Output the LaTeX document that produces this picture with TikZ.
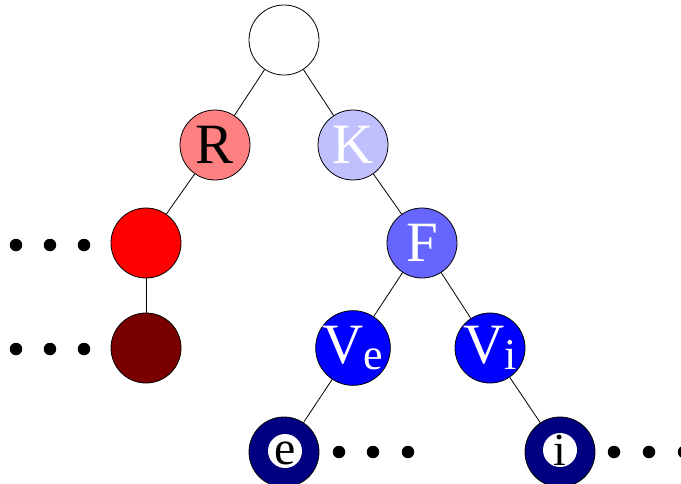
\documentclass[tikz,border=0pt]{standalone}
\usepackage{fontspec}
\setmainfont{Liberation Serif}
\definecolor{rlight}{HTML}{FF8080}
\definecolor{klight}{HTML}{C0C0FF}
\definecolor{fmid}{HTML}{6666FF}
\definecolor{vblue}{HTML}{0000FF}
\definecolor{navyfill}{HTML}{000080}
\definecolor{redfill}{HTML}{FF0000}
\definecolor{maroonfill}{HTML}{7A0000}
\begin{document}
\begin{tikzpicture}[x=1pt,y=-1pt,
  vtx/.style={circle, draw=black, line width=0.8pt, minimum size=70pt, inner sep=0pt},
  big/.style={font=\fontsize{57}{60}\selectfont},
  hole/.style={circle, fill=white, minimum size=34pt, inner sep=0pt},
  dot/.style={circle, fill=black, minimum size=12.5pt, inner sep=0pt},
  edge/.style={line width=0.8pt}]
\useasboundingbox (0,0) rectangle (681,483);

% tree vertices
\node[vtx, fill=white] (root) at (284,40) {};
\node[vtx, fill=rlight, big, text=black] (R) at (215,145) {R};
\node[vtx, fill=klight, big, text=white] (K) at (353,145) {K};
\node[vtx, fill=redfill] (red) at (146,243) {};
\node[vtx, fill=fmid, big, text=white] (F) at (422,243) {F};
\node[vtx, fill=maroonfill] (maroon) at (146,348) {};
\node[vtx, fill=vblue, big, text=white] (Ve) at (353,348)
  {V\raisebox{-6pt}{\fontsize{44}{46}\selectfont e}};
\node[vtx, fill=vblue, big, text=white] (Vi) at (490,348)
  {V\raisebox{-6pt}{\fontsize{44}{46}\selectfont i}};
\node[vtx, fill=navyfill] (e) at (284,452) {};
\node[hole] (eHole) at (285,451) {};
\node[font=\fontsize{48}{50}\selectfont, inner sep=0pt] (eTxt) at (285,453) {e};
\node[vtx, fill=navyfill] (i) at (560,452) {};
\node[hole] (iHole) at (560,450) {};
\node[font=\fontsize{46}{48}\selectfont, inner sep=0pt] (iTxt) at (560,450) {i};

% connectors
\draw[edge] (root) -- (R);
\draw[edge] (root) -- (K);
\draw[edge] (R) -- (red);
\draw[edge] (red) -- (maroon);
\draw[edge] (K) -- (F);
\draw[edge] (F) -- (Ve);
\draw[edge] (F) -- (Vi);
\draw[edge] (Ve) -- (e);
\draw[edge] (Vi) -- (i);

% ellipsis dots
\foreach \x [count=\k] in {16,50,84} {
  \node[dot] (da\k) at (\x,245) {};
  \node[dot] (db\k) at (\x,349) {};
}
\foreach \x [count=\k] in {339,373,408} {
  \node[dot] (dc\k) at (\x,452) {};
}
\foreach \x [count=\k] in {614,649,684} {
  \node[dot] (dd\k) at (\x,452) {};
}
\end{tikzpicture}
\end{document}
